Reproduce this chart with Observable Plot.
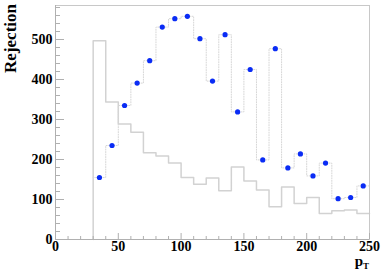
<!DOCTYPE html>
<html>
<head>
<meta charset="utf-8">
<script src="https://cdn.jsdelivr.net/npm/d3@7"></script>
<script src="https://cdn.jsdelivr.net/npm/@observablehq/plot@0.6"></script>
<style>
  html, body { margin: 0; padding: 0; background: #fff; }
  #chart svg { display: block; }
</style>
</head>
<body>
<div id="chart"></div>
<script>
// bin lower edges (width 10)
const binStarts = [30, 40, 50, 60, 70, 80, 90, 100, 110, 120, 130, 140, 150, 160, 170, 180, 190, 200, 210, 220, 230, 240];
const binCenters = [35, 45, 55, 65, 75, 85, 95, 105, 115, 125, 135, 145, 155, 165, 175, 185, 195, 205, 215, 225, 235, 245];
// rejection values (blue points)
const rejection = [155, 235, 335, 391, 447, 531, 552, 558, 502, 396, 512, 319, 425, 199, 477, 179, 214, 159, 191, 102, 105, 134];
// reference histogram (grey)
const reference = [497, 344, 289, 268, 217, 209, 191, 155, 138, 154, 122, 181, 146, 124, 82, 131, 90, 105, 65, 72, 74, 65];
const xMajor = [0, 50, 100, 150, 200, 250];
const xMinor = [10, 20, 30, 40, 60, 70, 80, 90, 110, 120, 130, 140, 160, 170, 180, 190, 210, 220, 230, 240];
const yMajor = [0, 100, 200, 300, 400, 500];
const yMinor = [20, 40, 60, 80, 120, 140, 160, 180, 220, 240, 260, 280, 320, 340, 360, 380, 420, 440, 460, 480, 520, 540, 560, 580];
const xEnd = 250;

const W = 386, H = 273, ML = 55, MR = 17, MT = 5, MB = 34;
const innerW = W - ML - MR, innerH = H - MT - MB;

const refLine = [{x: binStarts[0], y: 0}]
  .concat(binStarts.map((b, i) => ({x: b, y: reference[i]})))
  .concat([{x: xEnd, y: reference[reference.length - 1]}]);
const rejLine = binStarts.map((b, i) => ({x: b, y: rejection[i]}))
  .concat([{x: xEnd, y: rejection[rejection.length - 1]}]);
const pts = binCenters.map((c, i) => ({x: c, y: rejection[i]}));

const font = "Liberation Serif, Times New Roman, serif";

const chart = Plot.plot({
  width: W, height: H,
  marginLeft: ML, marginRight: MR, marginTop: MT, marginBottom: MB,
  x: {domain: [0, 250]},
  y: {domain: [0, 585]},
  style: {background: "#fff"},
  marks: [
    Plot.lineY(refLine, {x: "x", y: "y", curve: "step-after", stroke: "#d2d2d2", strokeWidth: 1.5}),
    Plot.lineY(rejLine, {x: "x", y: "y", curve: "step-after", stroke: "#d6d6d6", strokeWidth: 1, strokeDasharray: "1,1.5"}),
    Plot.dot(pts, {x: "x", y: "y", r: 2.6, fill: "#0a2cf5", stroke: "none"}),
    Plot.frame({stroke: "#c8c8c8"}),
    Plot.ruleX([0], {stroke: "#b0b0b0"}),
    Plot.ruleY([0], {stroke: "#b0b0b0"}),
    Plot.tickY(yMajor, {y: d => d, stroke: "#b0b0b0", insetRight: innerW - 9}),
    Plot.tickY(yMinor, {y: d => d, stroke: "#b0b0b0", insetRight: innerW - 5}),
    Plot.tickX(xMajor, {x: d => d, stroke: "#b0b0b0", insetTop: innerH - 6}),
    Plot.tickX(xMinor, {x: d => d, stroke: "#b0b0b0", insetTop: innerH - 3}),
    Plot.axisY({ticks: yMajor, tickSize: 0, tickPadding: 3, label: null, fontSize: 14, fontFamily: font, fontWeight: "bold", tickFormat: d => String(d)}),
    Plot.axisX({ticks: xMajor, tickSize: 0, tickPadding: 2, label: null, fontSize: 14, fontFamily: font, fontWeight: "bold", tickFormat: d => String(d)})
  ]
});

const svg = d3.select(chart);
svg.append("text")
  .attr("transform", "translate(16,4) rotate(-90)")
  .attr("text-anchor", "end")
  .attr("font-family", font)
  .attr("font-weight", "bold")
  .attr("font-size", 17)
  .attr("fill", "#000")
  .text("Rejection");
const pt = svg.append("text")
  .attr("x", 369)
  .attr("y", 266)
  .attr("text-anchor", "end")
  .attr("font-family", font)
  .attr("font-weight", "bold")
  .attr("font-size", 15)
  .attr("fill", "#000");
pt.append("tspan").text("p");
pt.append("tspan").attr("font-size", 9).attr("dy", 3).text("T");

document.getElementById("chart").appendChild(chart);
</script>
</body>
</html>
